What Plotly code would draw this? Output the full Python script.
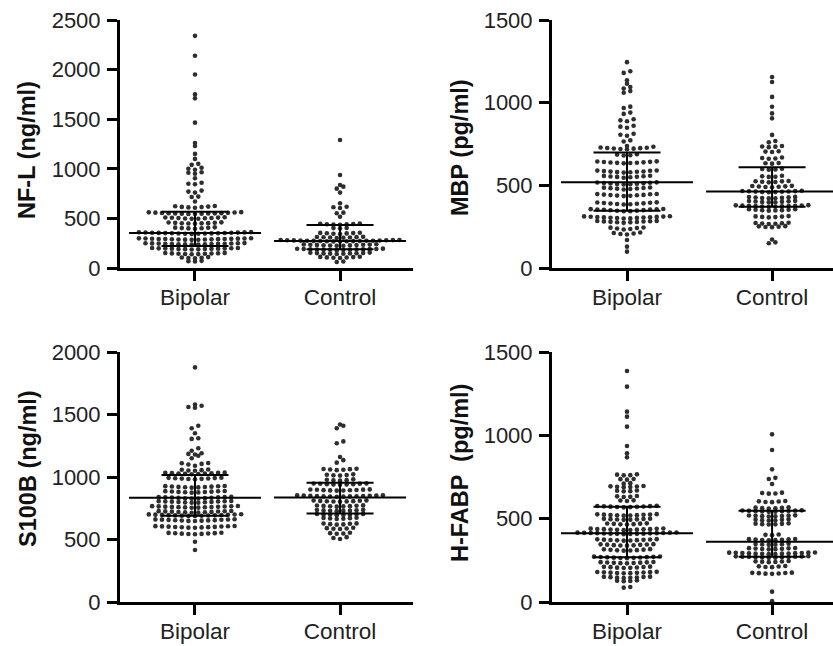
import plotly.graph_objects as go

W, H = 833, 646

CATEGORIES = ["Bipolar", "Control"]

# ---------------- data ----------------
NFL_BIPOLAR = [2340, 2140, 1950, 1750, 1710, 1465, 1260, 1230, 1150, 1100, 1050, 1040, 1010, 1000, 990, 965, 960, 950,
               905, 860, 850, 845, 780, 770, 760, 720, 715, 670,
               622, 616, 611, 619, 608, 625, 614,
               556, 549, 561, 552, 545, 558, 550, 547, 563, 553, 544, 555, 548, 559, 551,
               506, 499, 511, 503, 496, 508, 501, 509, 497, 504,
               455, 449, 460, 452, 447, 458, 451, 456, 450,
               405, 399, 410, 402, 396, 407, 401,
               356, 349, 361, 352, 345, 358, 350, 347, 362, 353, 344, 355, 348, 359, 351, 346, 357, 354,
               295, 289, 299, 292, 286, 297, 290, 288, 300, 293, 285, 296, 291, 298, 287, 294, 284, 292,
               246, 240, 250, 243, 237, 248, 242, 239, 251, 245, 236, 247, 241, 249, 238, 244,
               197, 191, 201, 194, 188, 199, 193, 190, 202, 196, 187, 198, 192, 195,
               147, 141, 151, 144, 138, 149, 143, 140, 152, 146,
               106, 100, 110, 103, 97,
               72, 66, 69]
NFL_CONTROL = [1290, 937, 837, 820, 800, 760, 652, 612, 605, 618, 558, 552, 517,
               446, 440, 437, 443, 449, 436, 441,
               402, 398, 404,
               352, 346, 356, 349, 343, 354, 350,
               311, 305, 314, 308, 302, 313, 307, 310,
               278, 272, 282, 275, 269, 280, 274, 271, 283, 276, 268, 279, 273, 281, 270, 277, 267, 275, 272,
               234, 228, 238, 231, 225, 236, 230, 227, 239, 233, 224, 235,
               190, 184, 194, 187, 181, 192, 186, 183, 195, 189, 180, 191, 185, 188,
               150, 144, 154, 147, 141, 152, 146, 143, 155, 149,
               110, 104, 114, 107, 101, 112, 106,
               66, 60]

MBP_BIPOLAR = [1245, 1190, 1180, 1135, 1115, 1095, 1085, 1070, 1060,
               976, 968, 940, 932, 900, 893, 888, 860, 855, 848, 812, 806, 800, 772, 765, 738, 733,
               726, 722, 729, 720, 725, 718, 727, 723,
               686, 682, 688, 680,
               641, 636, 644, 638, 633, 642, 637, 635, 645, 639,
               586, 580, 589, 583, 577, 588, 582, 579, 590, 584,
               555, 549, 558, 552, 546, 557, 551, 553,
               514, 508, 517, 511, 505, 516, 510, 507, 518, 512,
               484, 478, 487, 481, 475, 486, 480, 483,
               444, 438, 447, 441, 435, 446, 440, 437, 448, 442,
               393, 387, 396, 390, 384, 395, 389, 386, 397, 391,
               353, 347, 356, 350, 344, 355, 349, 346, 357, 352, 343, 354,
               309, 303, 312, 306, 300, 311, 305, 302, 313, 307, 299, 310, 304, 308,
               282, 276, 285, 279, 273, 284, 278, 281, 277, 283,
               242, 236, 245, 239, 233, 244,
               212, 206, 215, 209, 203,
               169, 129, 99]
MBP_CONTROL = [1155, 1125, 1035, 975, 935, 905, 805, 768, 760,
               738, 735, 731, 734,
               706, 702, 704,
               665, 661, 668, 662,
               635, 631, 634,
               599, 595, 601, 596,
               555, 551, 558, 552,
               524, 520, 526, 518, 522, 525,
               494, 490, 496, 488, 493, 491, 497,
               464, 460, 466, 458, 463, 461, 467, 459, 465, 462,
               427, 423, 429, 421, 426, 424, 430, 422,
               403, 399, 405, 397, 402, 400, 406, 398,
               377, 373, 379, 371, 376, 374, 380, 372, 378, 375, 370, 376,
               353, 349, 355, 347, 352, 350, 356, 348,
               312, 308, 314, 306, 311, 309,
               272, 268, 274, 266, 271, 269,
               252, 248, 250, 247, 253,
               172, 155, 150]

S100B_BIPOLAR = [1877, 1580, 1570, 1560, 1555, 1410, 1390, 1350, 1310, 1305, 1230, 1210, 1190, 1185, 1180, 1170,
                 1150, 1112, 1110, 1105, 1100, 1090,
                 1058, 1052, 1060, 1055, 1050,
                 1031, 1025, 1034, 1028, 1022, 1033, 1027, 1024, 1035, 1030,
                 991, 985, 994, 988, 982, 993, 987, 984, 990,
                 924, 918, 927, 921, 915, 926, 920, 917, 928, 923,
                 884, 878, 887, 881, 875, 886, 880, 877, 888, 883,
                 837, 831, 840, 834, 828, 839, 833, 830, 841, 836, 827, 838,
                 804, 798, 807, 801, 795, 806, 800, 797, 808, 803, 794, 805,
                 764, 758, 767, 761, 755, 766, 760, 757, 768, 763, 754, 765, 759, 762,
                 724, 718, 727, 721, 715, 726, 720, 717, 728, 723, 714, 725,
                 698, 692, 701, 695, 689, 700, 694, 691, 702, 697, 688, 699, 693, 696, 690,
                 658, 652, 661, 655, 649, 660, 654, 651, 662, 657, 648, 659, 653,
                 604, 598, 607, 601, 595, 606, 600, 597, 608, 603, 594, 605, 599,
                 551, 545, 554, 548, 542, 553, 547, 544, 550,
                 482, 416]
S100B_CONTROL = [1420, 1410, 1390, 1285, 1270, 1160, 1135, 1115,
                 1063, 1058, 1066, 1060, 1055, 1064,
                 1018, 1013, 1021, 1015, 1011,
                 978, 973, 981, 975, 971,
                 946, 941, 949, 943, 939, 948, 942, 940, 947,
                 898, 893, 901, 895, 891, 900, 894, 892, 899, 896,
                 850, 845, 853, 847, 843, 852, 846, 844, 851, 848, 842, 854, 849, 845,
                 810, 805, 813, 807, 803, 812, 806, 804, 809,
                 770, 765, 773, 767, 763, 772, 766, 769,
                 734, 729, 737, 731, 727, 736, 730, 733,
                 702, 697, 705, 699, 695, 704, 698, 701,
                 671, 666, 674, 668, 664, 673,
                 626, 621, 629, 623, 619, 628,
                 591, 586, 594, 588, 584,
                 551, 546, 554, 548,
                 519, 512, 504]

HFABP_BIPOLAR = [1386, 1292, 1142, 1112, 1052, 936, 892, 868,
                 764, 760, 766, 761,
                 738, 734, 737,
                 713, 710,
                 694, 690, 696, 689, 693, 691,
                 668, 664, 669, 665,
                 634, 630, 636, 631,
                 610, 606, 609,
                 574, 570, 576, 569, 573, 571, 577, 568, 575, 572,
                 524, 520, 526, 519, 523, 521, 527, 518, 525, 522,
                 498, 494, 500, 493, 497, 495, 499, 496,
                 470, 466, 472, 465, 469, 467, 471,
                 438, 434, 440, 433, 437, 435, 441, 432, 439, 436, 431, 437,
                 414, 410, 416, 409, 413, 411, 417, 408, 415, 412, 407, 414, 410, 416, 409, 413,
                 374, 370, 376, 369, 373, 371, 377, 368, 375, 372,
                 344, 340, 346, 339, 343, 341, 347, 338, 345,
                 314, 310, 316, 309, 313, 311, 317, 308,
                 270, 266, 272, 265, 269, 267, 271, 264, 273, 268, 263,
                 238, 234, 240, 233, 237, 235, 239, 232, 236,
                 210, 206, 212, 205, 209, 207, 211, 204,
                 178, 174, 180, 173, 177, 175, 179, 172, 181, 176,
                 150, 146, 152, 145, 149, 147, 151, 144,
                 130, 126, 128, 125,
                 90, 86]
HFABP_CONTROL = [1006, 912, 796, 745, 738, 708,
                 654, 650, 656, 651,
                 604, 600, 606, 599, 603,
                 566, 562, 568, 561, 565, 563,
                 547, 543, 549, 542, 546, 544, 550, 541, 548, 545,
                 518, 514, 520, 513, 517, 515, 519, 516,
                 494, 490, 496, 489, 493, 491,
                 470, 466, 472, 465, 469, 467,
                 405, 401, 403,
                 376, 372, 378, 371, 375, 373, 377, 370,
                 348, 344, 350, 343, 347, 345,
                 322, 318, 324, 317, 321, 319, 323, 316,
                 294, 290, 296, 289, 293, 291, 297, 288, 295, 292, 287, 296, 290, 294,
                 272, 268, 274, 267, 271, 269, 273, 266, 275, 270, 265, 272,
                 244, 240, 246, 239, 243, 241,
                 214, 210, 216, 209, 213,
                 174, 170, 176, 169, 173, 171, 175,
                 62, 5]

# median and interquartile range: [Bipolar, Control]
NFL_MEDIAN, NFL_Q1, NFL_Q3 = [352, 272], [222, 188], [567, 433]
MBP_MEDIAN, MBP_Q1, MBP_Q3 = [518, 462], [347, 371], [698, 609]
S100B_MEDIAN, S100B_Q1, S100B_Q3 = [835, 837], [690, 709], [1016, 955]
HFABP_MEDIAN, HFABP_Q1, HFABP_Q3 = [412, 362], [268, 272], [572, 548]

NFL_TICKS = [0, 500, 1000, 1500, 2000, 2500]
MBP_TICKS = [0, 500, 1000, 1500]
S100B_TICKS = [0, 500, 1000, 1500, 2000]
HFABP_TICKS = [0, 500, 1000, 1500]

TITLES = ["NF-L (ng/ml)", "MBP (pg/ml)", "S100B (ng/ml)", "H-FABP  (pg/ml)"]

# ---------------- layout geometry (pixels) ----------------
FONT = "Liberation Sans, Arial, sans-serif"
DOT = "#2e2e2e"

panels = [
    dict(groups=(NFL_BIPOLAR, NFL_CONTROL), med=NFL_MEDIAN, q1=NFL_Q1, q3=NFL_Q3, ticks=NFL_TICKS,
         xpx=(120, 413), ypx=(268, 20), xr=(-0.517, 1.503), title=TITLES[0], tpos=(27, 150)),
    dict(groups=(MBP_BIPOLAR, MBP_CONTROL), med=MBP_MEDIAN, q1=MBP_Q1, q3=MBP_Q3, ticks=MBP_TICKS,
         xpx=(552, 833), ypx=(268, 20), xr=(-0.517, 1.42), title=TITLES[1], tpos=(460, 148)),
    dict(groups=(S100B_BIPOLAR, S100B_CONTROL), med=S100B_MEDIAN, q1=S100B_Q1, q3=S100B_Q3, ticks=S100B_TICKS,
         xpx=(120, 413), ypx=(602, 352), xr=(-0.517, 1.503), title=TITLES[2], tpos=(28, 469)),
    dict(groups=(HFABP_BIPOLAR, HFABP_CONTROL), med=HFABP_MEDIAN, q1=HFABP_Q1, q3=HFABP_Q3, ticks=HFABP_TICKS,
         xpx=(552, 833), ypx=(602, 352), xr=(-0.517, 1.42), title=TITLES[3], tpos=(460, 473)),
]


def row_swarm(vals, ppy, dx=6.6, gap=2.8):
    """Prism-like row beeswarm: values grouped into pixel rows, each row centred. Returns x offsets (px)."""
    order = sorted(range(len(vals)), key=lambda i: vals[i])
    rows, cur, start = [], [], None
    for i in order:
        y = vals[i] * ppy
        if cur and y - start > gap:
            rows.append(cur)
            cur = []
        if not cur:
            start = y
        cur.append(i)
    if cur:
        rows.append(cur)
    xs = [0.0] * len(vals)
    for r in rows:
        n = len(r)
        slots = sorted(range(n), key=lambda j: abs(j - (n - 1) / 2.0))
        for idx, j in zip(r, slots):
            xs[idx] = (j - (n - 1) / 2.0) * dx
    return xs


fig = go.Figure()
layout = dict(width=W, height=H, margin=dict(l=0, r=0, t=0, b=0, autoexpand=False), paper_bgcolor="white",
              plot_bgcolor="white", showlegend=False, annotations=[])

MED_HALF = 0.455
IQR_HALF = 0.231

for k, p in enumerate(panels):
    n = "" if k == 0 else str(k + 1)
    xa, ya = "x" + n, "y" + n
    x0, x1 = p["xpx"]
    yb, yt = p["ypx"]
    ymax = p["ticks"][-1]
    ppx = (x1 - x0) / (p["xr"][1] - p["xr"][0])
    ppy = (yb - yt) / ymax
    for g, vals in enumerate(p["groups"]):
        offs = row_swarm(vals, ppy)
        fig.add_trace(go.Scatter(x=[g + o / ppx for o in offs], y=vals, mode="markers",
                                 marker=dict(size=4.6, color=DOT, line=dict(width=0)),
                                 cliponaxis=False, xaxis=xa, yaxis=ya, hoverinfo="skip"))
    for g in range(2):
        m, a, b = p["med"][g], p["q1"][g], p["q3"][g]
        fig.add_trace(go.Scatter(
            x=[g - MED_HALF, g + MED_HALF, None, g - IQR_HALF, g + IQR_HALF, None,
               g - IQR_HALF, g + IQR_HALF, None, g, g],
            y=[m, m, None, a, a, None, b, b, None, a, b],
            mode="lines", line=dict(color="black", width=2), xaxis=xa, yaxis=ya, hoverinfo="skip"))
    layout["xaxis" + n] = dict(domain=[x0 / W, x1 / W], range=list(p["xr"]), anchor=ya, automargin=False,
                               showline=True, linewidth=3, linecolor="black", showgrid=False,
                               zeroline=False, ticks="outside", ticklen=10, tickwidth=3, tickcolor="black",
                               tickvals=[0, 1], ticktext=CATEGORIES, ticklabelstandoff=-3,
                               tickfont=dict(family=FONT, size=22.5, color="#222"))
    layout["yaxis" + n] = dict(domain=[(H - yb) / H, (H - yt) / H], range=[0, ymax], anchor=xa, automargin=False,
                               showline=True, linewidth=3, linecolor="black", showgrid=False,
                               zeroline=False, ticks="outside", ticklen=10, tickwidth=3, tickcolor="black",
                               tickvals=p["ticks"], ticktext=[str(t) for t in p["ticks"]],
                               ticklabelstandoff=2,
                               tickfont=dict(family=FONT, size=22, color="#222"))
    tx, ty = p["tpos"]
    layout["annotations"].append(dict(text="<b>%s</b>" % p["title"], x=tx / W, y=(H - ty) / H,
                                      xref="paper", yref="paper", xanchor="center", yanchor="middle",
                                      textangle=-90, showarrow=False,
                                      font=dict(family=FONT, size=23.5, color="#111")))

fig.update_layout(**layout)
fig.write_html("out.html", config={"displayModeBar": False},
               post_script="document.body.style.margin='0';document.body.style.overflow='hidden';")
